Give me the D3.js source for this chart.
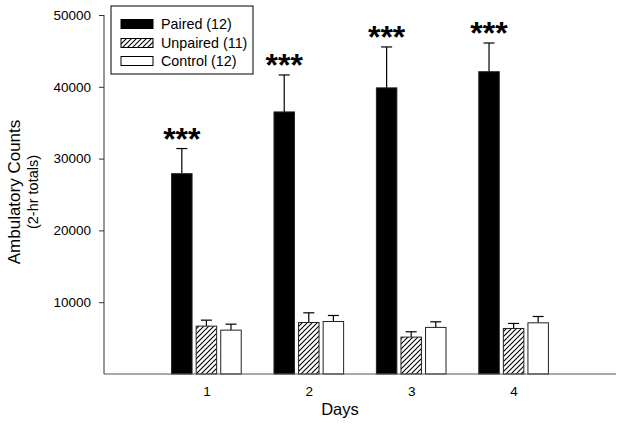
<!DOCTYPE html>
<html><head><meta charset="utf-8">
<script src="https://cdn.jsdelivr.net/npm/d3@7"></script>
<style>body{margin:0;background:#fff}svg{display:block}text{font-family:Arial,"Liberation Sans",sans-serif}</style>
</head><body><svg id="c" width="626" height="425"></svg>
<script>
const days = [1, 2, 3, 4];
const seriesNames = ["Paired (12)", "Unpaired (11)", "Control (12)"];
const paired = [27900, 36500, 39850, 42100];
const pairedErr = [3500, 5150, 5700, 4000];
const unpaired = [6670, 7170, 5140, 6340];
const unpairedErr = [830, 1350, 740, 700];
const control = [6110, 7310, 6490, 7130];
const controlErr = [830, 840, 780, 880];
const yTicks = [10000, 20000, 30000, 40000, 50000];
const sigLabels = ["***", "***", "***", "***"];

const FONT = "Arial, 'Liberation Sans', sans-serif";
const svg = d3.select("#c");
const x = d3.scaleLinear().domain([0, 5]).range([104, 616]);
const y = d3.scaleLinear().domain([0, 50000]).range([374, 15]);

const defs = svg.append("defs");
const pat = defs.append("pattern").attr("id","hatch").attr("patternUnits","userSpaceOnUse")
  .attr("width",5).attr("height",5);
pat.append("rect").attr("width",5).attr("height",5).attr("fill","#fff");
pat.append("path").attr("d","M-1,1 l2,-2 M0,5 l5,-5 M4,6 l2,-2").attr("stroke","#000").attr("stroke-width",1.1);

const series = [
  {vals: paired, err: pairedErr, fill: "#000", off: -0.24},
  {vals: unpaired, err: unpairedErr, fill: "url(#hatch)", off: 0},
  {vals: control, err: controlErr, fill: "#fff", off: 0.24}
];
const bw = 0.2;

series.forEach(s => {
  const g = svg.append("g");
  days.forEach((d, i) => {
    const cx = x(d + s.off);
    const top = y(s.vals[i] + s.err[i]);
    g.append("line").attr("x1", cx).attr("x2", cx).attr("y1", y(s.vals[i])).attr("y2", top)
      .attr("stroke", "#000").attr("stroke-width", 1.2);
    g.append("line").attr("x1", cx - 5.5).attr("x2", cx + 5.5).attr("y1", top).attr("y2", top)
      .attr("stroke", "#000").attr("stroke-width", 1.2);
    g.append("rect").attr("x", x(d + s.off - bw/2)).attr("y", y(s.vals[i]))
      .attr("width", x(d + s.off + bw/2) - x(d + s.off - bw/2)).attr("height", y(0) - y(s.vals[i]))
      .attr("fill", s.fill).attr("stroke", "#222").attr("stroke-width", 1);
  });
});

// significance
days.forEach((d, i) => {
  svg.append("text").attr("x", x(d - 0.24)).attr("y", y(paired[i] + pairedErr[i]) + 1)
    .attr("text-anchor", "middle").style("font-size", "32px").style("font-weight", "bold")
    .style("font-family", FONT).text(sigLabels[i]);
});

// axes
const ya = d3.axisLeft(y).tickValues(yTicks).tickSize(5).tickPadding(8).tickFormat(d3.format("d"));
const yg = svg.append("g").attr("transform", "translate(104,0)").call(ya);
yg.select(".domain").attr("d", "M0,374V15").attr("stroke", "#333");
yg.selectAll(".tick line").attr("stroke", "#333");
yg.selectAll("text").style("font-size", "13.5px").attr("fill", "#000").style("font-family", FONT);

const xa = d3.axisBottom(x).tickValues(days).tickSize(0).tickPadding(12).tickFormat(d3.format("d"));
const xg = svg.append("g").attr("transform", "translate(0,374)").call(xa);
xg.select(".domain").attr("d", "M104,0H616").attr("stroke", "#555");
xg.selectAll("text").style("font-size", "13.5px").attr("fill", "#000").style("font-family", FONT);

svg.append("text").attr("x", 340).attr("y", 415).attr("text-anchor", "middle")
  .style("font-size", "16.5px").style("font-family", FONT).text("Days");
svg.append("text").attr("transform", "translate(20,192) rotate(-90)").attr("text-anchor", "middle")
  .style("font-size", "17px").style("font-family", FONT).text("Ambulatory Counts");
svg.append("text").attr("transform", "translate(38,192) rotate(-90)").attr("text-anchor", "middle")
  .style("font-size", "14.5px").style("font-family", FONT).text("(2-hr totals)");

// legend
const lg = svg.append("g");
lg.append("rect").attr("x", 111).attr("y", 6).attr("width", 142).attr("height", 68)
  .attr("fill", "#fff").attr("stroke", "#000").attr("stroke-width", 1);
const lfills = ["#000", "url(#hatch)", "#fff"];
const lys = [24, 43, 61];
seriesNames.forEach((n, i) => {
  lg.append("rect").attr("x", 121).attr("y", lys[i] - 4.5).attr("width", 32).attr("height", 9)
    .attr("fill", lfills[i]).attr("stroke", "#000").attr("stroke-width", 1);
  lg.append("text").attr("x", 161).attr("y", lys[i] + 5).style("font-size", "14.3px")
    .style("font-family", FONT).text(n);
});
</script></body></html>
